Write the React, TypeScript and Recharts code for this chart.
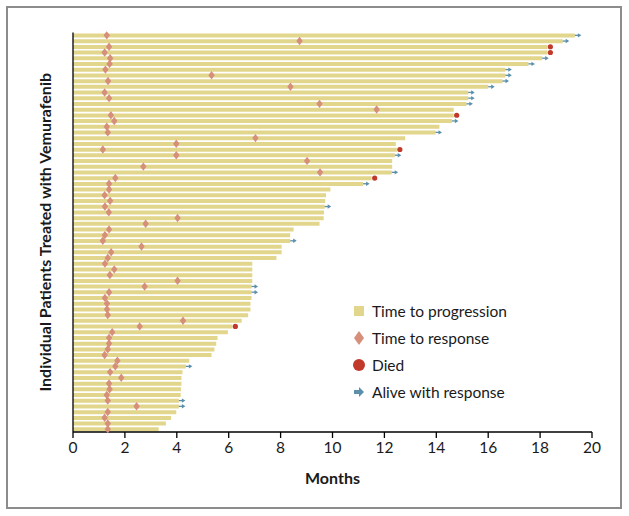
import { ComposedChart, Bar, Line, XAxis, YAxis } from "recharts";

// one row per patient, top of chart = first entry
const patients = [
  1, 2, 3, 4, 5, 6, 7, 8, 9, 10, 11, 12, 13, 14, 15, 16, 17, 18, 19, 20,
  21, 22, 23, 24, 25, 26, 27, 28, 29, 30, 31, 32, 33, 34, 35, 36, 37, 38, 39, 40,
  41, 42, 43, 44, 45, 46, 47, 48, 49, 50, 51, 52, 53, 54, 55, 56, 57, 58, 59, 60,
  61, 62, 63, 64, 65, 66, 67, 68, 69, 70,
];

// months to progression
const timeToProgression = [
  19.34, 18.87, 18.28, 18.28, 18.08, 17.55, 16.66, 16.66, 16.55, 16.0,
  15.23, 15.23, 15.16, 14.67, 14.67, 14.6, 14.12, 13.97, 12.8, 12.44,
  12.48, 12.4, 12.3, 12.3, 12.28, 11.51, 11.18, 9.92, 9.75, 9.72,
  9.7, 9.67, 9.66, 9.5, 8.5, 8.37, 8.37, 8.04, 8.04, 7.84,
  6.91, 6.91, 6.91, 6.91, 6.88, 6.88, 6.88, 6.84, 6.84, 6.75,
  6.5, 6.14, 5.97, 5.57, 5.52, 5.45, 5.34, 4.48, 4.35, 4.22,
  4.18, 4.18, 4.16, 4.15, 4.08, 4.08, 3.98, 3.78, 3.58, 3.3,
];

// months to response
const timeToResponse = [
  1.3, 8.73, 1.39, 1.22, 1.43, 1.41, 1.25, 5.34, 1.35, 8.38,
  1.22, 1.39, 9.5, 11.7, 1.46, 1.59, 1.3, 1.34, 7.03, 3.98,
  1.15, 3.98, 9.02, 2.71, 9.52, 1.63, 1.39, 1.39, 1.22, 1.43,
  1.23, 1.38, 4.03, 2.8, 1.39, 1.23, 1.15, 2.64, 1.47, 1.34,
  1.23, 1.59, 1.42, 4.03, 2.76, 1.39, 1.23, 1.31, 1.31, 1.34,
  4.24, 2.57, 1.51, 1.39, 1.39, 1.34, 1.22, 1.71, 1.63, 1.43,
  1.86, 1.39, 1.41, 1.3, 1.34, 2.45, 1.34, 1.22, 1.34, 1.34,
];

const diedIds = [3, 4, 15, 21, 26, 52];
const aliveIds = [1, 2, 5, 6, 7, 8, 9, 10, 11, 12, 13, 16, 18, 22, 25, 27, 31, 37, 45, 46, 59, 65, 66];

const monthTicks = [0, 2, 4, 6, 8, 10, 12, 14, 16, 18, 20];

const COLORS = {
  bar: "#e2d68c",
  response: "#d58f7a",
  died: "#c0392b",
  alive: "#5b8fab",
  text: "#1a1a1a",
};

const FONT = "Lato, 'Open Sans', sans-serif";

const rows = patients.map((id, i) => ({
  id,
  ttp: timeToProgression[i],
  response: timeToResponse[i],
  died: diedIds.includes(id) ? timeToProgression[i] : null,
  alive: aliveIds.includes(id) ? timeToProgression[i] : null,
}));

function Diamond(props: any) {
  const { cx, cy, value, index } = props;
  if (cx == null || cy == null || value == null) return <g key={index} />;
  return (
    <polygon
      key={index}
      points={`${cx},${cy - 4.2} ${cx + 3.2},${cy} ${cx},${cy + 4.2} ${cx - 3.2},${cy}`}
      fill={COLORS.response}
    />
  );
}

function DeathDot(props: any) {
  const { cx, cy, value, index } = props;
  if (cx == null || cy == null || value == null) return <g key={index} />;
  return <circle key={index} cx={cx + 3} cy={cy} r={2.6} fill={COLORS.died} />;
}

function AliveArrow(props: any) {
  const { cx, cy, value, index } = props;
  if (cx == null || cy == null || value == null) return <g key={index} />;
  return (
    <g key={index}>
      <line x1={cx} y1={cy} x2={cx + 4} y2={cy} stroke={COLORS.alive} strokeWidth={1.3} />
      <polygon
        points={`${cx + 3},${cy - 2.2} ${cx + 6.5},${cy} ${cx + 3},${cy + 2.2}`}
        fill={COLORS.alive}
      />
    </g>
  );
}

const legendItems = [
  { label: "Time to progression", kind: "bar" },
  { label: "Time to response", kind: "response" },
  { label: "Died", kind: "died" },
  { label: "Alive with response", kind: "alive" },
];

function LegendIcon({ kind }: { kind: string }) {
  return (
    <svg width={16} height={16} style={{ display: "block" }}>
      {kind === "bar" && <rect x={3} y={3} width={10} height={10} fill={COLORS.bar} />}
      {kind === "response" && <polygon points="8,1 13,8 8,15 3,8" fill={COLORS.response} />}
      {kind === "died" && <circle cx={8} cy={8} r={6} fill={COLORS.died} />}
      {kind === "alive" && (
        <g>
          <rect x={3} y={6} width={6} height={4} fill={COLORS.alive} />
          <polygon points="8,3 13,8 8,13" fill={COLORS.alive} />
        </g>
      )}
    </svg>
  );
}

export default function App() {
  return (
    <div style={{ position: "absolute", left: 0, top: 0, width: 629, height: 516, background: "#fff" }}>
      <div
        style={{
          position: "absolute",
          left: 6,
          top: 6,
          width: 616,
          height: 503,
          boxSizing: "border-box",
          border: "2px solid #8c8c8c",
        }}
      />
      <ComposedChart
        width={629}
        height={516}
        layout="vertical"
        data={rows}
        margin={{ top: 32.5, right: 37, bottom: 30, left: 0 }}
        style={{ position: "absolute", left: 0, top: 0 }}
      >
        <XAxis
          type="number"
          domain={[0, 20]}
          ticks={monthTicks}
          allowDataOverflow
          height={54}
          tickSize={6}
          tickMargin={4}
          axisLine={{ stroke: "#000", strokeWidth: 1.3 }}
          tickLine={{ stroke: "#000", strokeWidth: 1.3 }}
          tick={{ fill: COLORS.text, fontSize: 15.5, fontFamily: FONT }}
          label={{
            value: "Months",
            position: "insideBottom",
            offset: 2,
            style: { fill: COLORS.text, fontSize: 16, fontWeight: 700, fontFamily: FONT },
          }}
        />
        <YAxis
          type="category"
          dataKey="id"
          width={73}
          tick={false}
          tickLine={false}
          axisLine={{ stroke: "#000", strokeWidth: 1.3 }}
          label={{
            value: "Individual Patients Treated with Vemurafenib",
            angle: -90,
            position: "insideLeft",
            offset: 45,
            style: {
              textAnchor: "middle",
              fill: COLORS.text,
              fontSize: 16,
              fontWeight: 700,
              fontFamily: FONT,
            },
          }}
        />
        <Bar dataKey="ttp" fill={COLORS.bar} barSize={4} isAnimationActive={false} />
        <Line
          dataKey="response"
          stroke="none"
          dot={Diamond}
          activeDot={false}
          isAnimationActive={false}
        />
        <Line
          dataKey="died"
          stroke="none"
          dot={DeathDot}
          activeDot={false}
          isAnimationActive={false}
        />
        <Line
          dataKey="alive"
          stroke="none"
          dot={AliveArrow}
          activeDot={false}
          isAnimationActive={false}
        />
      </ComposedChart>
      <div style={{ position: "absolute", left: 351, top: 297, fontFamily: FONT, fontSize: 15.5, color: COLORS.text }}>
        {legendItems.map((item) => (
          <div key={item.label} style={{ display: "flex", alignItems: "center", height: 27 }}>
            <LegendIcon kind={item.kind} />
            <span style={{ marginLeft: 5 }}>{item.label}</span>
          </div>
        ))}
      </div>
    </div>
  );
}
